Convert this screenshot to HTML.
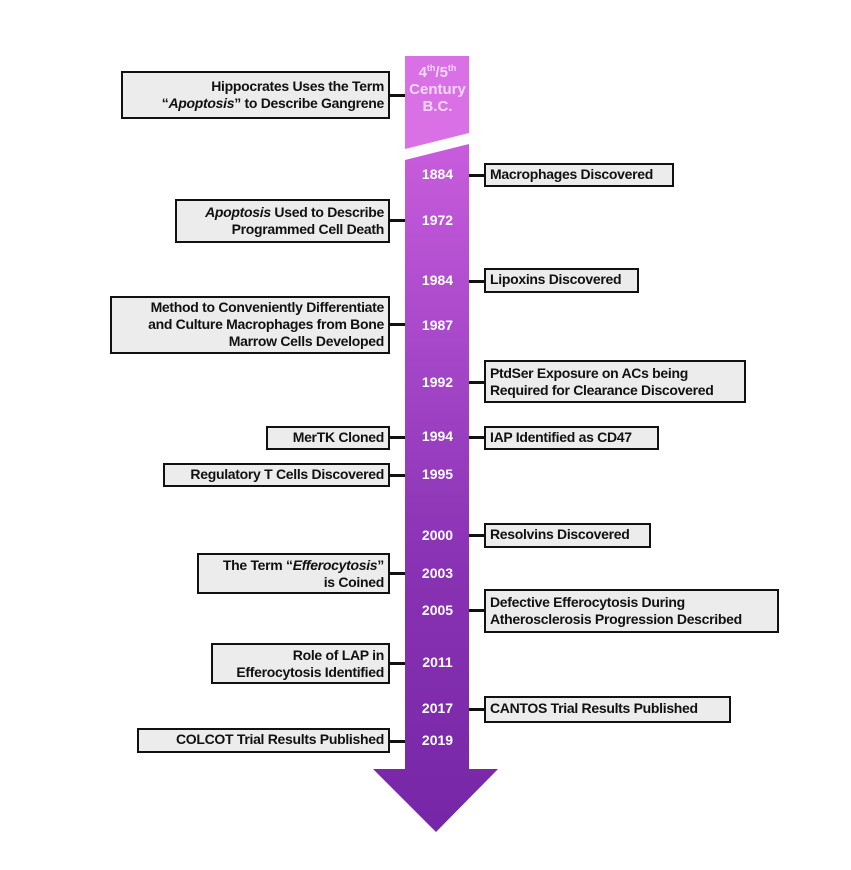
<!DOCTYPE html>
<html><head><meta charset="utf-8"><style>
body{margin:0;width:851px;height:870px;background:#fff;position:relative;overflow:hidden;font-family:"Liberation Sans",Arial,sans-serif;}
.b{position:absolute;box-sizing:border-box;border:2.5px solid #111;background:#ececec;font-weight:bold;font-size:14px;line-height:17px;color:#111;padding:1px 4px;letter-spacing:-0.3px;white-space:nowrap;}
.l{text-align:right;}
.c{position:absolute;height:2.5px;background:#111;}
.y{position:absolute;left:405px;width:65px;text-align:center;color:#fff;font-weight:bold;font-size:14px;line-height:16px;}
</style></head><body>
<svg width="851" height="870" style="position:absolute;left:0;top:0">
<defs>
<linearGradient id="g" gradientUnits="userSpaceOnUse" x1="0" y1="144" x2="0" y2="832">
<stop offset="0" stop-color="#c85ddc"/>
<stop offset="0.3" stop-color="#a647c9"/>
<stop offset="0.6" stop-color="#8a33b4"/>
<stop offset="1" stop-color="#7526a6"/>
</linearGradient>
</defs>
<polygon points="405,56 469,56 469,133 405,149" fill="#d970e6"/>
<polygon points="405,160 469,144 469,769 498,769 436,832 373,769 405,769" fill="url(#g)"/>
</svg>
<div class="y" style="top:60px;font-size:15px;line-height:17px;color:#f4d8f8">4<sup style="font-size:9px">th</sup>/5<sup style="font-size:9px">th</sup><br>Century<br>B.C.</div>

<div class="b l" style="left:121px;top:71px;width:269px;height:48px;padding-top:5px">Hippocrates Uses the Term<br>“<i>Apoptosis</i>” to Describe Gangrene</div><div class="c" style="left:389px;top:94px;width:16px"></div>

<div class="y" style="top:166px">1884</div>
<div class="c" style="left:469px;top:174px;width:16px"></div><div class="b" style="left:484px;top:163px;width:190px;height:24px">Macrophages Discovered</div>

<div class="y" style="top:212px">1972</div>
<div class="b l" style="left:175px;top:199px;width:215px;height:44px;padding-top:3px"><i>Apoptosis</i> Used to Describe<br>Programmed Cell Death</div><div class="c" style="left:389px;top:219px;width:16px"></div>

<div class="y" style="top:272px">1984</div>
<div class="c" style="left:469px;top:280px;width:16px"></div><div class="b" style="left:484px;top:268px;width:155px;height:25px">Lipoxins Discovered</div>

<div class="y" style="top:317px">1987</div>
<div class="b l" style="left:110px;top:296px;width:280px;height:58px;padding-top:1px">Method to Conveniently Differentiate<br>and Culture Macrophages from Bone<br>Marrow Cells Developed</div><div class="c" style="left:389px;top:323px;width:16px"></div>

<div class="y" style="top:374px">1992</div>
<div class="c" style="left:469px;top:381px;width:16px"></div><div class="b" style="left:484px;top:360px;width:262px;height:43px;padding-top:3px">PtdSer Exposure on ACs being<br>Required for Clearance Discovered</div>

<div class="y" style="top:428px">1994</div>
<div class="b l" style="left:266px;top:426px;width:124px;height:24px">MerTK Cloned</div><div class="c" style="left:389px;top:436px;width:16px"></div>
<div class="c" style="left:469px;top:436px;width:16px"></div><div class="b" style="left:484px;top:426px;width:175px;height:24px">IAP Identified as CD47</div>

<div class="y" style="top:466px">1995</div>
<div class="b l" style="left:163px;top:463px;width:227px;height:24px">Regulatory T Cells Discovered</div><div class="c" style="left:389px;top:474px;width:16px"></div>

<div class="y" style="top:527px">2000</div>
<div class="c" style="left:469px;top:534px;width:16px"></div><div class="b" style="left:484px;top:523px;width:167px;height:25px">Resolvins Discovered</div>

<div class="y" style="top:565px">2003</div>
<div class="b l" style="left:197px;top:553px;width:193px;height:41px;padding-top:2px">The Term “<i>Efferocytosis</i>”<br>is Coined</div><div class="c" style="left:389px;top:572px;width:16px"></div>

<div class="y" style="top:602px">2005</div>
<div class="c" style="left:469px;top:609px;width:16px"></div><div class="b" style="left:484px;top:589px;width:295px;height:44px;padding-top:3px">Defective Efferocytosis During<br>Atherosclerosis Progression Described</div>

<div class="y" style="top:654px">2011</div>
<div class="b l" style="left:211px;top:643px;width:179px;height:41px;padding-top:2px">Role of LAP in<br>Efferocytosis Identified</div><div class="c" style="left:389px;top:662px;width:16px"></div>

<div class="y" style="top:700px">2017</div>
<div class="c" style="left:469px;top:708px;width:16px"></div><div class="b" style="left:484px;top:696px;width:247px;height:27px;padding-top:2px">CANTOS Trial Results Published</div>

<div class="y" style="top:732px">2019</div>
<div class="b l" style="left:137px;top:728px;width:253px;height:25px">COLCOT Trial Results Published</div><div class="c" style="left:389px;top:740px;width:16px"></div>
</body></html>
